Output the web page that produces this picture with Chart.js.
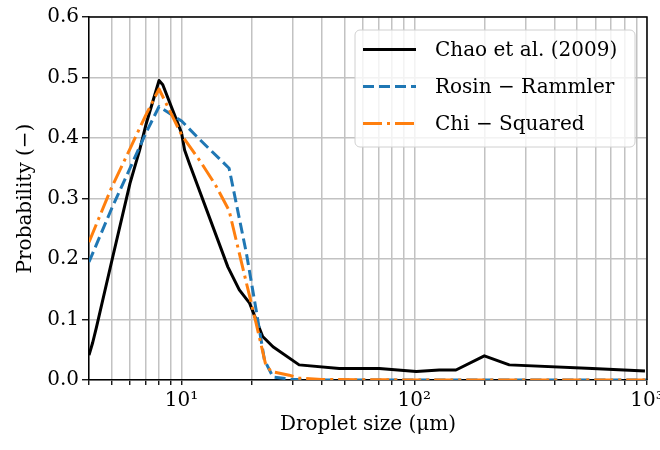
<!DOCTYPE html>
<html><head><meta charset="utf-8">
<script src="https://cdn.jsdelivr.net/npm/chart.js@4.4.0/dist/chart.umd.min.js"></script>
<style>html,body{margin:0;padding:0;background:#fff;overflow:hidden}#wrap{width:660px;height:450px}</style>
</head><body><div id="wrap"><canvas id="c" width="660" height="450"></canvas></div>
<script>
// ---- data ----
const seriesNames = ['Chao et al. (2009)', 'Rosin \u2212 Rammler', 'Chi \u2212 Squared'];
const chaoX = [4.0, 4.15, 4.3, 5.0, 6.0, 6.6, 7.05, 8.0, 8.3, 10.0, 10.3, 10.8, 15.8, 17.7, 19.6, 22.3, 24.7, 32, 47.6, 70.7, 102, 128, 151, 200, 256, 582, 980];
const chaoY = [0.041, 0.062, 0.086, 0.195, 0.325, 0.380, 0.424, 0.495, 0.488, 0.408, 0.380, 0.358, 0.187, 0.149, 0.127, 0.072, 0.055, 0.025, 0.019, 0.019, 0.014, 0.0165, 0.0165, 0.040, 0.025, 0.019, 0.015];
const rosinX = [4, 5, 6, 7, 8, 10, 12, 16, 19, 20.9, 22.7, 24.7, 30, 40, 100, 1000];
const rosinY = [0.195, 0.283, 0.350, 0.407, 0.452, 0.428, 0.397, 0.350, 0.209, 0.116, 0.033, 0.005, 0.001, 0.0, 0.0, 0.0];
const chiX = [4, 5, 6, 7, 8, 10, 12, 14, 16, 19, 20.9, 22.9, 24.2, 29, 32, 40, 100, 1000];
const chiY = [0.228, 0.318, 0.382, 0.437, 0.481, 0.405, 0.362, 0.322, 0.280, 0.160, 0.094, 0.028, 0.014, 0.008, 0.003, 0.001, 0.0, 0.0];
const xTickValues = [4, 5, 6, 7, 8, 9, 10, 20, 30, 40, 50, 60, 70, 80, 90, 100, 200, 300, 400, 500, 600, 700, 800, 900, 1000];
const xMajorTicks = [10, 100, 1000];
const xMajorLabels = ['10\u00b9', '10\u00b2', '10\u00b3'];
const yTickStep = 0.1;

const FONT = "'DejaVu Serif', serif";
const pts = (xs, ys) => xs.map((x, i) => ({x, y: ys[i]}));

const framePlugin = {
  id: 'frame',
  afterDatasetsDraw(chart) {
    const {ctx, chartArea: a} = chart;
    ctx.save();
    ctx.strokeStyle = '#000';
    ctx.lineWidth = 1.5;
    ctx.beginPath();
    ctx.moveTo(a.left, a.top); ctx.lineTo(a.right, a.top); ctx.lineTo(a.right, a.bottom);
    ctx.stroke();
    ctx.restore();
  }
};

const legendPlugin = {
  id: 'boxLegend',
  afterDraw(chart) {
    const {ctx, chartArea: a} = chart;
    const w = 280, h = 117;
    const x0 = a.right - 12 - w, y0 = a.top + 13;
    ctx.save();
    ctx.beginPath();
    ctx.roundRect(x0, y0, w, h, 5);
    ctx.fillStyle = 'rgba(255,255,255,0.8)';
    ctx.fill();
    ctx.strokeStyle = '#d0d0d0';
    ctx.lineWidth = 1;
    ctx.stroke();
    ctx.font = '20px ' + FONT;
    ctx.textBaseline = 'middle';
    ctx.textAlign = 'left';
    chart.data.datasets.forEach((ds, i) => {
      const y = y0 + 19.5 + i * 37;
      ctx.beginPath();
      ctx.strokeStyle = ds.borderColor;
      ctx.lineWidth = ds.borderWidth;
      ctx.setLineDash(ds.borderDash || []);
      ctx.lineCap = 'butt';
      ctx.moveTo(x0 + 8, y); ctx.lineTo(x0 + 61, y);
      ctx.stroke();
      ctx.setLineDash([]);
      ctx.fillStyle = '#000';
      ctx.fillText(ds.label, x0 + 80, y + 1);
    });
    ctx.restore();
  }
};

new Chart(document.getElementById('c'), {
  type: 'line',
  data: {
    datasets: [
      {label: seriesNames[0], data: pts(chaoX, chaoY), borderColor: '#000000', borderWidth: 3, pointRadius: 0, borderJoinStyle: 'round', order: 3, tension: 0},
      {label: seriesNames[1], data: pts(rosinX, rosinY), borderColor: '#1f77b4', borderWidth: 3, borderDash: [11, 5], pointRadius: 0, borderJoinStyle: 'round', order: 2, tension: 0},
      {label: seriesNames[2], data: pts(chiX, chiY), borderColor: '#ff7f0e', borderWidth: 3, borderDash: [19, 5, 3, 5], pointRadius: 0, borderJoinStyle: 'round', order: 1, tension: 0}
    ]
  },
  options: {
    responsive: false,
    animation: false,
    devicePixelRatio: 1,
    layout: {padding: {top: 17, right: 13, left: 0, bottom: 0}},
    plugins: {legend: {display: false}, tooltip: {enabled: false}},
    scales: {
      x: {
        type: 'logarithmic', position: 'bottom', min: 4, max: 1000,
        afterBuildTicks: s => { s.ticks = xTickValues.map(v => ({value: v, major: xMajorTicks.includes(v)})); },
        afterFit: s => { s.paddingLeft = 0; s.paddingRight = 0; s.height = 70; },
        grid: {color: '#c2c2c2', lineWidth: 1.5, tickColor: '#000', tickLength: 5, tickWidth: 1.3},
        border: {color: '#000', width: 1.5},
        ticks: {
          autoSkip: false, maxRotation: 0, minRotation: 0, color: '#000', padding: 4,
          font: {family: FONT, size: 20},
          callback: v => { const k = xMajorTicks.indexOf(v); return k >= 0 ? xMajorLabels[k] : ''; }
        },
        title: {display: true, text: 'Droplet size (\u03bcm)', color: '#000', font: {family: FONT, size: 20}, padding: {top: 0, bottom: 13}}
      },
      y: {
        min: 0, max: 0.6,
        afterFit: s => { s.paddingTop = 0; s.paddingBottom = 0; s.width = 89; },
        grid: {color: '#c2c2c2', lineWidth: 1.5, tickColor: '#000', tickLength: 7, tickWidth: 1.3},
        border: {color: '#000', width: 1.5},
        ticks: {stepSize: yTickStep, color: '#000', padding: 3, font: {family: FONT, size: 20}, callback: v => v.toFixed(1)},
        title: {display: true, text: 'Probability (\u2212)', color: '#000', font: {family: FONT, size: 20}, padding: {top: 14, bottom: 0}}
      }
    }
  },
  plugins: [framePlugin, legendPlugin]
});
</script></body></html>
